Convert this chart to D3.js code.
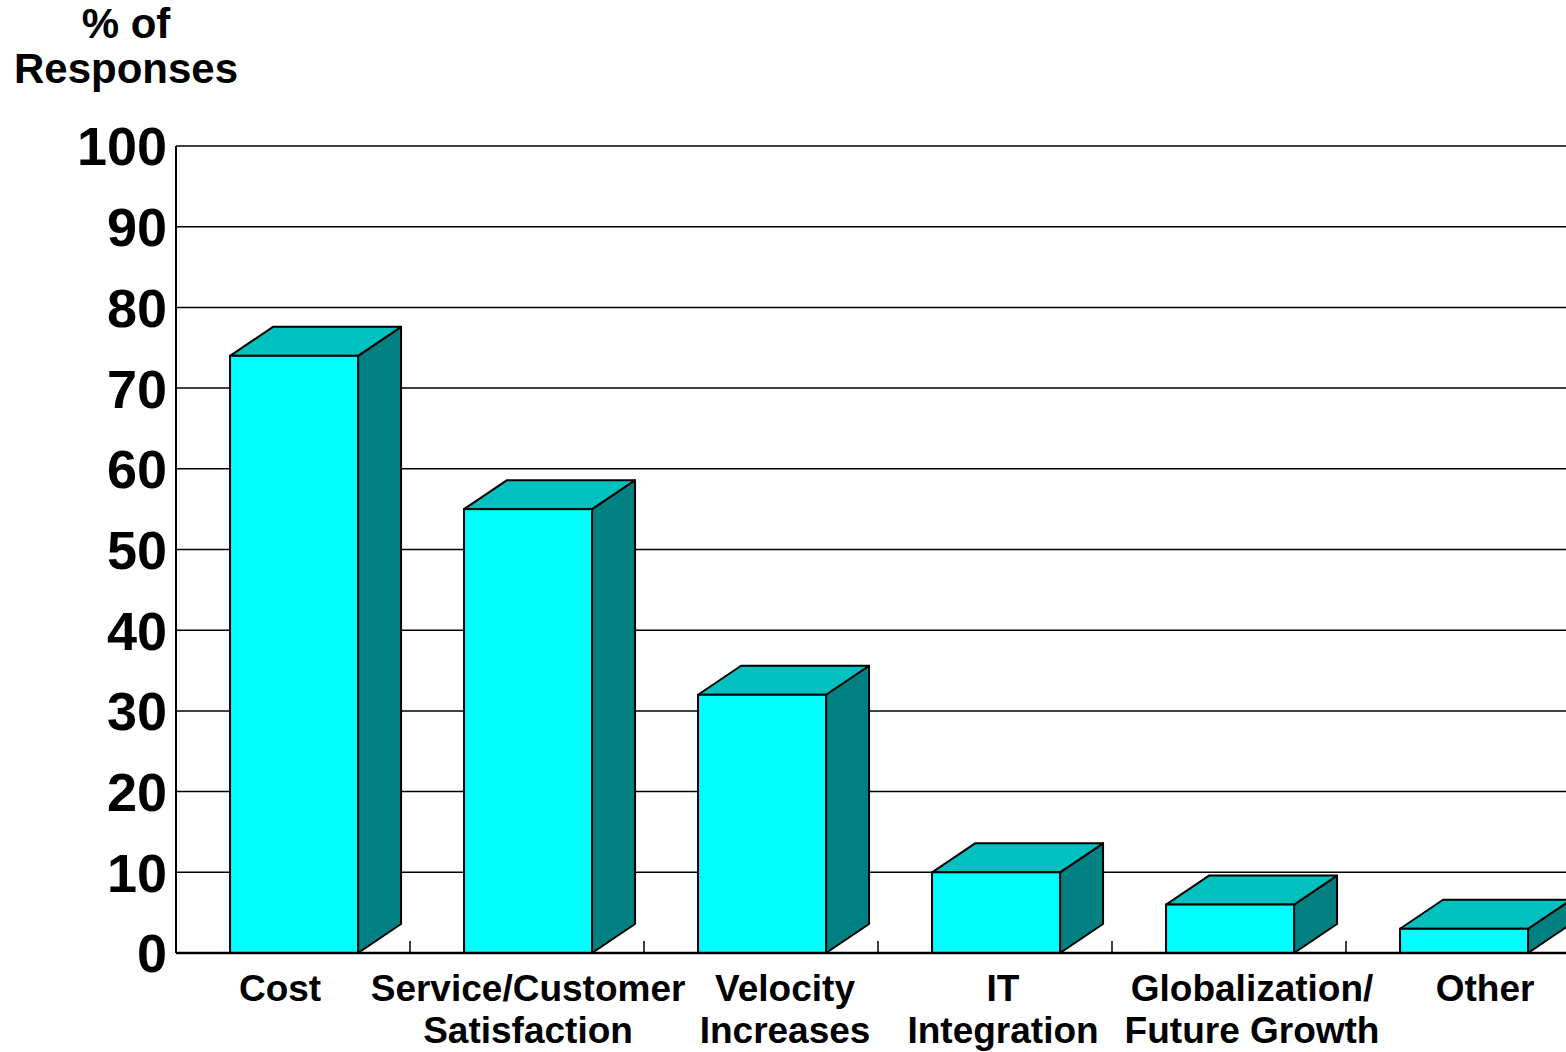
<!DOCTYPE html>
<html>
<head>
<meta charset="utf-8">
<script src="https://cdn.jsdelivr.net/npm/d3@7"></script>
<style>
html,body{margin:0;padding:0;background:#fff;overflow:hidden;}
svg{display:block;font-family:"Liberation Sans",Arial,sans-serif;font-weight:bold;}
</style>
</head>
<body>
<svg id="chart" width="1566" height="1052"></svg>
<script>
const categories = [["Cost"], ["Service/Customer","Satisfaction"], ["Velocity","Increases"], ["IT","Integration"], ["Globalization/","Future Growth"], ["Other"]];
const values = [74, 55, 32, 10, 6, 3];
const yTicks = [0, 10, 20, 30, 40, 50, 60, 70, 80, 90, 100];
const yTitle = ["% of", "Responses"];

(function () {
// layout: horizontal nudges of the category captions relative to each bar's front face
const labelNudge = [-14, 0, 23, 7, 22, 21];
const svg = d3.select("#chart");
const pLeft = 176, pRight = 1580, pTop = 146, pBottom = 953;
const keys = categories.map(c => c.join(" "));
const x = d3.scaleBand().domain(keys).range([pLeft, pRight]).padding(0);
const y = d3.scaleLinear().domain([0, 100]).range([pBottom, pTop]);
const step = x.step();
const barOff = step * 0.231, barW = step * 0.547;
const dx = 43, dy = 29;

// gridlines
svg.append("g").selectAll("line").data(yTicks.filter(t => t > 0)).join("line")
  .attr("x1", pLeft).attr("x2", pRight).attr("y1", d => y(d)).attr("y2", d => y(d))
  .attr("stroke", "#000").attr("stroke-width", 1.5);

// y tick labels
svg.append("g").selectAll("text").data(yTicks).join("text")
  .attr("x", 167).attr("y", d => y(d)).attr("dy", "0.36em")
  .attr("text-anchor", "end").attr("font-size", 54).text(d => d);

// title
svg.append("text").attr("text-anchor", "middle").attr("font-size", 42)
  .selectAll("tspan").data(yTitle).join("tspan")
  .attr("x", 126).attr("y", (d, i) => 38 + i * 45).text(d => d);

// bars
const g = svg.append("g").selectAll("g").data(keys).join("g");
g.each(function(k, i) {
  const gg = d3.select(this);
  const x0 = x(k) + barOff, x1 = x0 + barW;
  const yt = y(values[i]), yb = y(0);
  gg.append("path").attr("d", `M${x1},${yb}L${x1 + dx},${yb - dy}L${x1 + dx},${yt - dy}L${x1},${yt}Z`)
    .attr("fill", "#008080").attr("stroke", "#000").attr("stroke-width", 2).attr("stroke-linejoin", "round");
  gg.append("path").attr("d", `M${x0},${yt}L${x0 + dx},${yt - dy}L${x1 + dx},${yt - dy}L${x1},${yt}Z`)
    .attr("fill", "#00C0C0").attr("stroke", "#000").attr("stroke-width", 2).attr("stroke-linejoin", "round");
  gg.append("rect").attr("x", x0).attr("y", yt).attr("width", barW).attr("height", yb - yt)
    .attr("fill", "#00FFFF").attr("stroke", "#000").attr("stroke-width", 2);
});

// axes
svg.append("line").attr("x1", pLeft).attr("x2", pLeft).attr("y1", pTop).attr("y2", pBottom)
  .attr("stroke", "#000").attr("stroke-width", 2);
svg.append("line").attr("x1", pLeft).attr("x2", pRight).attr("y1", pBottom).attr("y2", pBottom)
  .attr("stroke", "#000").attr("stroke-width", 2.5);
svg.append("g").selectAll("line").data(keys).join("line")
  .attr("x1", (d, i) => pLeft + step * (i + 1)).attr("x2", (d, i) => pLeft + step * (i + 1))
  .attr("y1", pBottom - 12).attr("y2", pBottom).attr("stroke", "#000").attr("stroke-width", 1.5);

// category labels
const lab = svg.append("g").selectAll("text").data(categories).join("text")
  .attr("text-anchor", "middle").attr("font-size", 37);
lab.selectAll("tspan").data((d, i) => d.map(t => ({t, i}))).join("tspan")
  .attr("x", d => x(keys[d.i]) + barOff + barW / 2 + labelNudge[d.i])
  .attr("y", (d, j) => 1001 + j * 42).text(d => d.t);
})();
</script>
</body>
</html>
